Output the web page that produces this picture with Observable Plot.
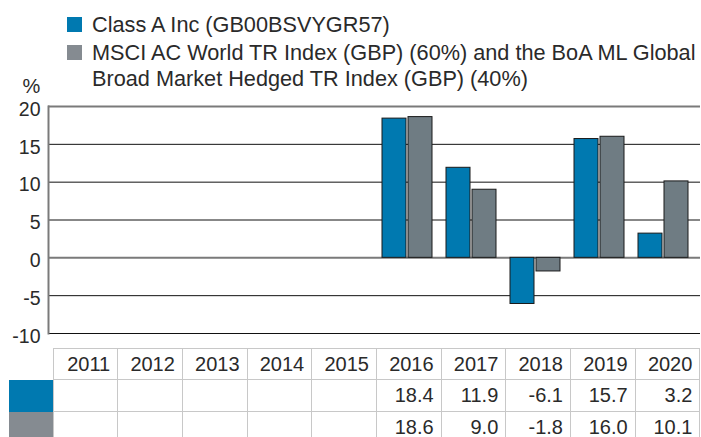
<!DOCTYPE html>
<html>
<head>
<meta charset="utf-8">
<script src="https://cdn.jsdelivr.net/npm/d3@7"></script>
<script src="https://cdn.jsdelivr.net/npm/@observablehq/plot@0.6"></script>
<style>
  body { margin: 0; background: #fff; }
  #wrap { position: relative; width: 701px; height: 437px; overflow: hidden;
          font-family: "Liberation Sans", Arial, sans-serif; color: #2a2a2a; }
  #legend { position: absolute; left: 67px; top: 12px; font-size: 21.7px; line-height: 26px; }
  .item { position: relative; padding-left: 25px; margin-bottom: 2px; }
  .sw { position: absolute; left: 0; top: 5px; width: 15px; height: 15px; }
  #chart { position: absolute; left: 0; top: 0; }
  table { position: absolute; left: 9px; top: 348px; border-collapse: collapse; table-layout: fixed;
          font-size: 20px; }
  td { border: 1px solid #c8c8c8; text-align: right; padding: 0 7px 0 0; height: 31px; box-sizing: border-box; white-space: nowrap; }
  td.blank { border: none; }
  td.swatch { border: none; padding: 0; }
</style>
</head>
<body>
<div id="wrap">
  <div id="chart"></div>
  <div id="legend"></div>
  <table id="tbl"></table>
</div>
<script>
const years = ["2011","2012","2013","2014","2015","2016","2017","2018","2019","2020"];
const fundValues = [null, null, null, null, null, 18.4, 11.9, -6.1, 15.7, 3.2];
const indexValues = [null, null, null, null, null, 18.6, 9.0, -1.8, 16.0, 10.1];
const fundLabels = ["", "", "", "", "", "18.4", "11.9", "-6.1", "15.7", "3.2"];
const indexLabels = ["", "", "", "", "", "18.6", "9.0", "-1.8", "16.0", "10.1"];
const yTicks = [-10, -5, 0, 5, 10, 15, 20];
const seriesNames = [
  "Class A Inc (GB00BSVYGR57)",
  "MSCI AC World TR Index (GBP) (60%) and the BoA ML Global Broad Market Hedged TR Index (GBP) (40%)"
];
const legendLines = [
  ["Class A Inc (GB00BSVYGR57)"],
  ["MSCI AC World TR Index (GBP) (60%) and the BoA ML Global", "Broad Market Hedged TR Index (GBP) (40%)"]
];
const barColors = ["#0079b0", "#6f7c83"];
const swatchColors = ["#0079b0", "#858b91"];

const fundData = years.map((year, i) => ({year, value: fundValues[i], series: seriesNames[0]})).filter(d => d.value != null);
const indexData = years.map((year, i) => ({year, value: indexValues[i], series: seriesNames[1]})).filter(d => d.value != null);

const chart = Plot.plot({
  width: 701,
  height: 348,
  marginTop: 106,
  marginBottom: 15,
  marginLeft: 48,
  marginRight: 1,
  style: {fontFamily: "'Liberation Sans', Arial, sans-serif", fontSize: "19.5px", color: "#2a2a2a", background: "transparent"},
  x: {domain: years, type: "band", padding: 0, insetLeft: 6, insetRight: 6, axis: null},
  y: {domain: [-10, 20], axis: null},
  marks: [
    Plot.ruleY(yTicks.filter(t => t !== 0 && t !== 20), {stroke: "#111", strokeWidth: 1}),
    Plot.ruleY([20, 0], {stroke: "#7a7a7a", strokeWidth: 2}),
    Plot.frame({anchor: "left", stroke: "#7a7a7a", strokeWidth: 2}),
    Plot.barY(fundData, {x: "year", y: "value", fill: barColors[0], stroke: "#1a1a1a", strokeWidth: 1, insetLeft: 8, insetRight: 32}),
    Plot.barY(indexData, {x: "year", y: "value", fill: barColors[1], stroke: "#1a1a1a", strokeWidth: 1, insetLeft: 34, insetRight: 6}),
    Plot.axisY({ticks: yTicks, tickSize: 0, tickPadding: 8, dy: 3, fill: "#2a2a2a", fontSize: 19.5, label: null, tickFormat: d => String(d)}),
    Plot.text(["%"], {frameAnchor: "top-left", dx: -26, dy: -28, fontSize: 20, fill: "#2a2a2a"})
  ]
});
document.getElementById("chart").appendChild(chart);

// Legend
const legend = d3.select("#legend");
legendLines.forEach((lines, i) => {
  const it = legend.append("div").attr("class", "item");
  it.append("div").attr("class", "sw").style("background", swatchColors[i]);
  it.append("div").html(lines.join("<br>"));
});

// Table
const tbl = d3.select("#tbl");
const colgroup = tbl.append("colgroup");
colgroup.append("col").style("width", "44px");
years.forEach(() => colgroup.append("col").style("width", "64.7px"));
const hr = tbl.append("tr");
hr.append("td").attr("class", "blank");
years.forEach(y => hr.append("td").text(y));
[fundLabels, indexLabels].forEach((labels, i) => {
  const tr = tbl.append("tr");
  tr.append("td").attr("class", "swatch").style("background", swatchColors[i]);
  labels.forEach(l => tr.append("td").text(l).style("height", "32px"));
});
</script>
</body>
</html>
